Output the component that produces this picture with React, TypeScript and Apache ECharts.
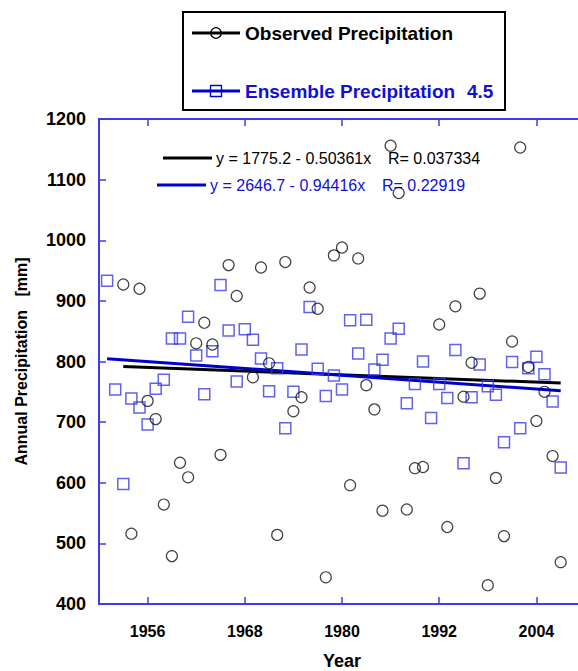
import React, { useEffect, useRef } from "react";
import * as echarts from "echarts";

const years = [
  1951, 1952, 1953, 1954, 1955, 1956, 1957, 1958, 1959, 1960,
  1961, 1962, 1963, 1964, 1965, 1966, 1967, 1968, 1969, 1970,
  1971, 1972, 1973, 1974, 1975, 1976, 1977, 1978, 1979, 1980,
  1981, 1982, 1983, 1984, 1985, 1986, 1987, 1988, 1989, 1990,
  1991, 1992, 1993, 1994, 1995, 1996, 1997, 1998, 1999, 2000,
  2001, 2002, 2003, 2004, 2005, 2006, 2007,
];

const observed: (number | null)[] = [
  null, null, 927, 516, 920, 735, 705, 564, 479, 633,
  609, 830, 864, 828, 646, 959, 908, null, 774, 955,
  797, 514, 964, 718, 741, 922, 887, 444, 975, 988,
  596, 970, 761, 721, 554, 1156, 1078, 556, 624, 626,
  null, 861, 527, 891, 742, 798, 912, 431, 608, 512,
  833, 1153, 791, 702, 750, 644, 469,
];

const ensemble: number[] = [
  933, 754, 598, 739, 724, 696, 755, 770, 838, 838,
  874, 810, 746, 817, 926, 851, 767, 853, 836, 805,
  751, 789, 690, 750, 820, 890, 788, 743, 777, 754,
  868, 813, 869, 787, 803, 838, 854, 731, 763, 800,
  707, 763, 740, 819, 632, 741, 795, 759, 745, 667,
  799, 690, 789, 808, 779, 734, 625,
];

const obsTrendYears = [1953, 2007];
const obsTrendValues = [791.6, 764.4];
const ensTrendYears = [1951, 2007];
const ensTrendValues = [804.6, 751.8];

const xTicks = [1956, 1968, 1980, 1992, 2004];

const obsLegend = "Observed Precipitation";
const ensLegend = "Ensemble Precipitation";
const ensLegendSuffix = "4.5";
const obsEq = "y = 1775.2 - 0.50361x";
const obsR = "R= 0.037334";
const ensEq = "y = 2646.7 - 0.94416x";
const ensR = "R= 0.22919";

const FONT = 'Arial, "Liberation Sans", sans-serif';
const AXIS_BLUE = "#3b3bf2";
const LINE_BLUE = "#0000cc";
const TEXT_BLUE = "#1010d8";
const SQUARE_BLUE = "#3939ec";

const plain = (v: number) => String(v);

export default function App() {
  const ref = useRef<HTMLDivElement>(null);

  useEffect(() => {
    if (!ref.current) return;
    const chart = echarts.init(ref.current, undefined, { renderer: "svg" });

    const obsData = years
      .map((y, i) => [y, observed[i]])
      .filter((d) => d[1] !== null);
    const ensData = years.map((y, i) => [y, ensemble[i]]);

    const xBase = {
      type: "value" as const,
      min: 1950,
      max: 2010,
      axisLine: { show: true, onZero: false, lineStyle: { color: AXIS_BLUE, width: 2 } },
      splitLine: { show: false },
    };
    const yBase = {
      type: "value" as const,
      min: 400,
      max: 1200,
      interval: 100,
      axisLine: { show: true, onZero: false, lineStyle: { color: AXIS_BLUE, width: 2 } },
      splitLine: { show: false },
      axisTick: { show: true, inside: true, length: 7, lineStyle: { color: AXIS_BLUE, width: 1.5 } },
    };

    chart.setOption({
      animation: false,
      textStyle: { fontFamily: FONT },
      grid: {
        left: 99,
        right: 5,
        top: 119,
        bottom: 67,
        containLabel: false,
        outerBoundsMode: "none",
      },
      xAxis: [
        {
          ...xBase,
          position: "bottom",
          axisTick: {
            show: true,
            inside: true,
            length: 7,
            customValues: xTicks,
            lineStyle: { color: AXIS_BLUE, width: 1.5 },
          },
          axisLabel: {
            customValues: xTicks,
            formatter: plain,
            color: "#000",
            fontWeight: "bold",
            fontSize: 16,
            fontFamily: FONT,
            margin: 19,
          },
          name: "Year",
          nameLocation: "middle",
          nameGap: 48,
          nameTextStyle: { color: "#000", fontWeight: "bold", fontSize: 18, fontFamily: FONT },
        },
        {
          ...xBase,
          position: "top",
          axisTick: {
            show: true,
            inside: true,
            length: 7,
            customValues: xTicks,
            lineStyle: { color: AXIS_BLUE, width: 1.5 },
          },
          axisLabel: { show: false },
        },
      ],
      yAxis: [
        {
          ...yBase,
          position: "left",
          axisLabel: {
            formatter: plain,
            color: "#000",
            fontWeight: "bold",
            fontSize: 18,
            fontFamily: FONT,
            margin: 13,
          },
          name: "Annual Precipitation   [mm]",
          nameLocation: "middle",
          nameGap: 70,
          nameTextStyle: { color: "#000", fontWeight: "bold", fontSize: 16, fontFamily: FONT },
        },
        {
          ...yBase,
          position: "right",
          axisLabel: { show: false },
        },
      ],
      series: [
        {
          type: "line",
          xAxisIndex: 0,
          yAxisIndex: 0,
          data: obsTrendYears.map((y, i) => [y, obsTrendValues[i]]),
          symbol: "none",
          lineStyle: { color: "#000", width: 3 },
          z: 2,
        },
        {
          type: "line",
          xAxisIndex: 0,
          yAxisIndex: 0,
          data: ensTrendYears.map((y, i) => [y, ensTrendValues[i]]),
          symbol: "none",
          lineStyle: { color: LINE_BLUE, width: 3 },
          z: 3,
        },
        {
          type: "scatter",
          xAxisIndex: 0,
          yAxisIndex: 0,
          data: ensData,
          symbol: "rect",
          symbolSize: 11,
          itemStyle: { color: "rgba(0,0,0,0)", borderColor: SQUARE_BLUE, borderWidth: 1.5 },
          z: 4,
        },
        {
          type: "scatter",
          xAxisIndex: 0,
          yAxisIndex: 0,
          data: obsData,
          symbol: "circle",
          symbolSize: 11,
          itemStyle: { color: "rgba(0,0,0,0)", borderColor: "#111", borderWidth: 1.2 },
          z: 5,
        },
      ],
      graphic: [
        {
          type: "rect",
          shape: { x: 183, y: 12, width: 322, height: 98 },
          style: { fill: "#fff", stroke: "#000", lineWidth: 2 },
        },
        {
          type: "line",
          shape: { x1: 192, y1: 33, x2: 240, y2: 33 },
          style: { stroke: "#000", lineWidth: 3 },
        },
        {
          type: "circle",
          shape: { cx: 216, cy: 33, r: 5.3 },
          style: { fill: "rgba(0,0,0,0)", stroke: "#000", lineWidth: 1.2 },
        },
        {
          type: "text",
          x: 245,
          y: 33,
          style: { text: obsLegend, font: `bold 19px ${FONT}`, fill: "#000", verticalAlign: "middle", align: "left" },
        },
        {
          type: "line",
          shape: { x1: 192, y1: 91, x2: 240, y2: 91 },
          style: { stroke: LINE_BLUE, lineWidth: 3 },
        },
        {
          type: "rect",
          shape: { x: 210.5, y: 85.5, width: 11, height: 11 },
          style: { fill: "rgba(0,0,0,0)", stroke: LINE_BLUE, lineWidth: 1.3 },
        },
        {
          type: "text",
          x: 245,
          y: 91,
          style: { text: ensLegend, font: `bold 19px ${FONT}`, fill: TEXT_BLUE, verticalAlign: "middle", align: "left" },
        },
        {
          type: "text",
          x: 467,
          y: 91,
          style: { text: ensLegendSuffix, font: `bold 19px ${FONT}`, fill: TEXT_BLUE, verticalAlign: "middle", align: "left" },
        },
        {
          type: "line",
          shape: { x1: 163, y1: 158, x2: 212, y2: 158 },
          style: { stroke: "#000", lineWidth: 3 },
        },
        {
          type: "text",
          x: 216,
          y: 158,
          style: { text: obsEq, font: `16px ${FONT}`, fill: "#000", verticalAlign: "middle", align: "left" },
        },
        {
          type: "text",
          x: 388,
          y: 158,
          style: { text: obsR, font: `16px ${FONT}`, fill: "#000", verticalAlign: "middle", align: "left" },
        },
        {
          type: "line",
          shape: { x1: 157, y1: 185, x2: 206, y2: 185 },
          style: { stroke: LINE_BLUE, lineWidth: 3 },
        },
        {
          type: "text",
          x: 210,
          y: 185,
          style: { text: ensEq, font: `16px ${FONT}`, fill: TEXT_BLUE, verticalAlign: "middle", align: "left" },
        },
        {
          type: "text",
          x: 382,
          y: 185,
          style: { text: ensR, font: `16px ${FONT}`, fill: TEXT_BLUE, verticalAlign: "middle", align: "left" },
        },
      ],
    });

    return () => chart.dispose();
  }, []);

  return (
    <div
      style={{
        position: "absolute",
        left: 0,
        top: 0,
        width: 578,
        height: 671,
        overflow: "hidden",
        background: "#fff",
      }}
    >
      <div ref={ref} style={{ width: 590, height: 671 }} />
    </div>
  );
}
